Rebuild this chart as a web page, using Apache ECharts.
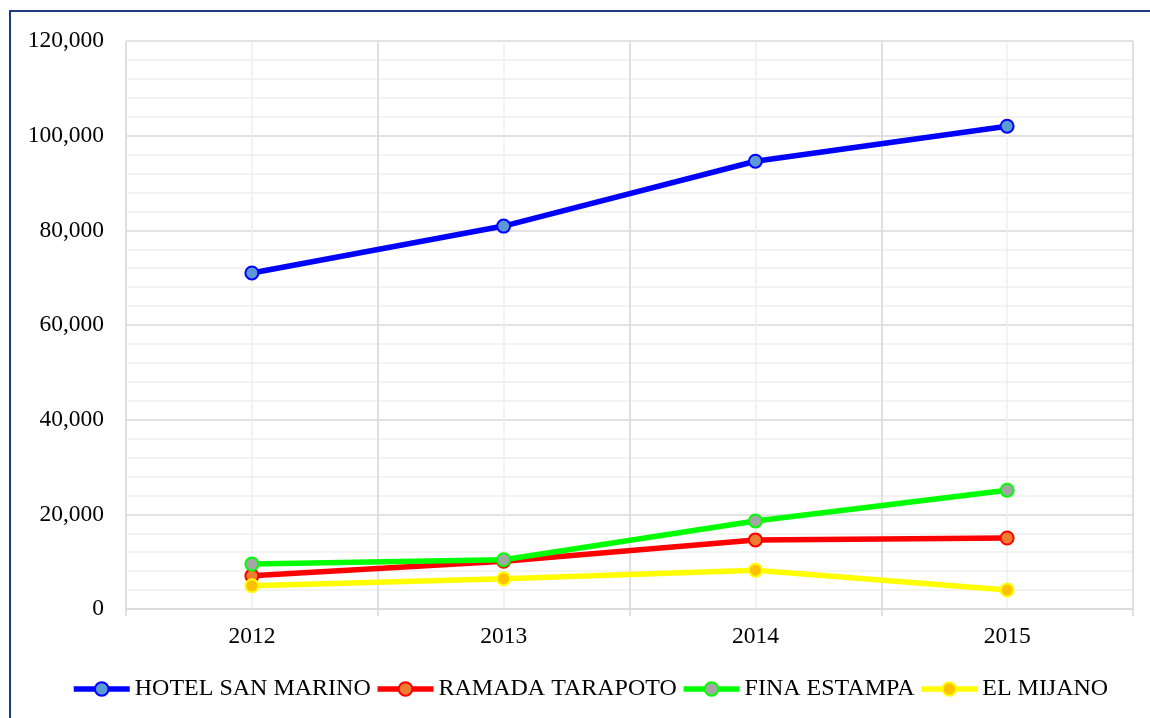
<!DOCTYPE html>
<html>
<head>
<meta charset="utf-8">
<script src="https://cdn.jsdelivr.net/npm/echarts@6/dist/echarts.min.js"></script>
<style>
html,body{margin:0;padding:0;background:#fff;}
#chart{width:1150px;height:718px;position:absolute;left:0;top:0;}
#frame{position:absolute;left:9px;top:10px;width:1160px;height:730px;border:2px solid #1F3B7E;box-sizing:border-box;pointer-events:none;}
</style>
</head>
<body>
<div id="chart"></div>
<div id="frame"></div>
<script>
const categories = ['2012', '2013', '2014', '2015'];
const seriesNames = ['HOTEL SAN MARINO', 'RAMADA TARAPOTO', 'FINA ESTAMPA', 'EL MIJANO'];
const hotelSanMarino = [71000, 80900, 94600, 102000];
const ramadaTarapoto = [7000, 10100, 14600, 15000];
const finaEstampa = [9500, 10400, 18600, 25100];
const elMijano = [4900, 6400, 8200, 4000];

const lineColors = ['#0000FF', '#FF0000', '#00FF00', '#FFFF00'];
const markerFill = ['#5B9BD5', '#ED7D31', '#A5A5A5', '#FFC000'];
const dataSets = [hotelSanMarino, ramadaTarapoto, finaEstampa, elMijano];

const font = '"Liberation Serif", "Times New Roman", serif';
const chart = echarts.init(document.getElementById('chart'));
chart.setOption({
  animation: false,
  backgroundColor: '#fff',
  grid: { left: 126, right: 17, top: 41, bottom: 109, containLabel: false },
  legend: {
    top: 672,
    left: 66,
    itemWidth: 56,
    itemHeight: 17,
    itemGap: 4,
    textStyle: { fontFamily: font, fontSize: 24, color: '#000' },
    lineStyle: { width: 5.5 },
    data: seriesNames
  },
  xAxis: [
    {
      type: 'value', min: 0, max: 8, interval: 1, position: 'top',
      axisLabel: { show: false }, axisLine: { show: false }, axisTick: { show: false },
      splitLine: { show: true, lineStyle: { color: '#EFEFEF', width: 1.5 } }
    },
    {
      type: 'category', data: categories, boundaryGap: true, position: 'bottom',
      axisLine: { show: true, lineStyle: { color: '#D9D9D9', width: 1.5 } },
      axisTick: { show: true, length: 7, lineStyle: { color: '#D9D9D9', width: 1.5 } },
      axisLabel: { fontFamily: font, fontSize: 23.5, color: '#000', margin: 16 },
      splitLine: { show: true, interval: 0, lineStyle: { color: '#D9D9D9', width: 1.5 } }
    }
  ],
  yAxis: {
    type: 'value', min: 0, max: 120000, interval: 20000,
    axisLine: { show: false }, axisTick: { show: false },
    axisLabel: {
      fontFamily: font, fontSize: 23.5, color: '#000', margin: 22,
      formatter: v => v.toLocaleString('en-US')
    },
    splitLine: { show: true, lineStyle: { color: '#D9D9D9', width: 1.5 } },
    minorTick: { show: false, splitNumber: 5 },
    minorSplitLine: { show: true, lineStyle: { color: '#EFEFEF', width: 1.5 } }
  },
  series: seriesNames.map((name, i) => ({
    name: name,
    type: 'line',
    xAxisIndex: 1,
    data: dataSets[i],
    symbol: 'circle',
    symbolSize: 13,
    lineStyle: { color: lineColors[i], width: 5.5 },
    itemStyle: { color: markerFill[i], borderColor: lineColors[i], borderWidth: 2 },
    z: 3 + i
  }))
});
</script>
</body>
</html>
